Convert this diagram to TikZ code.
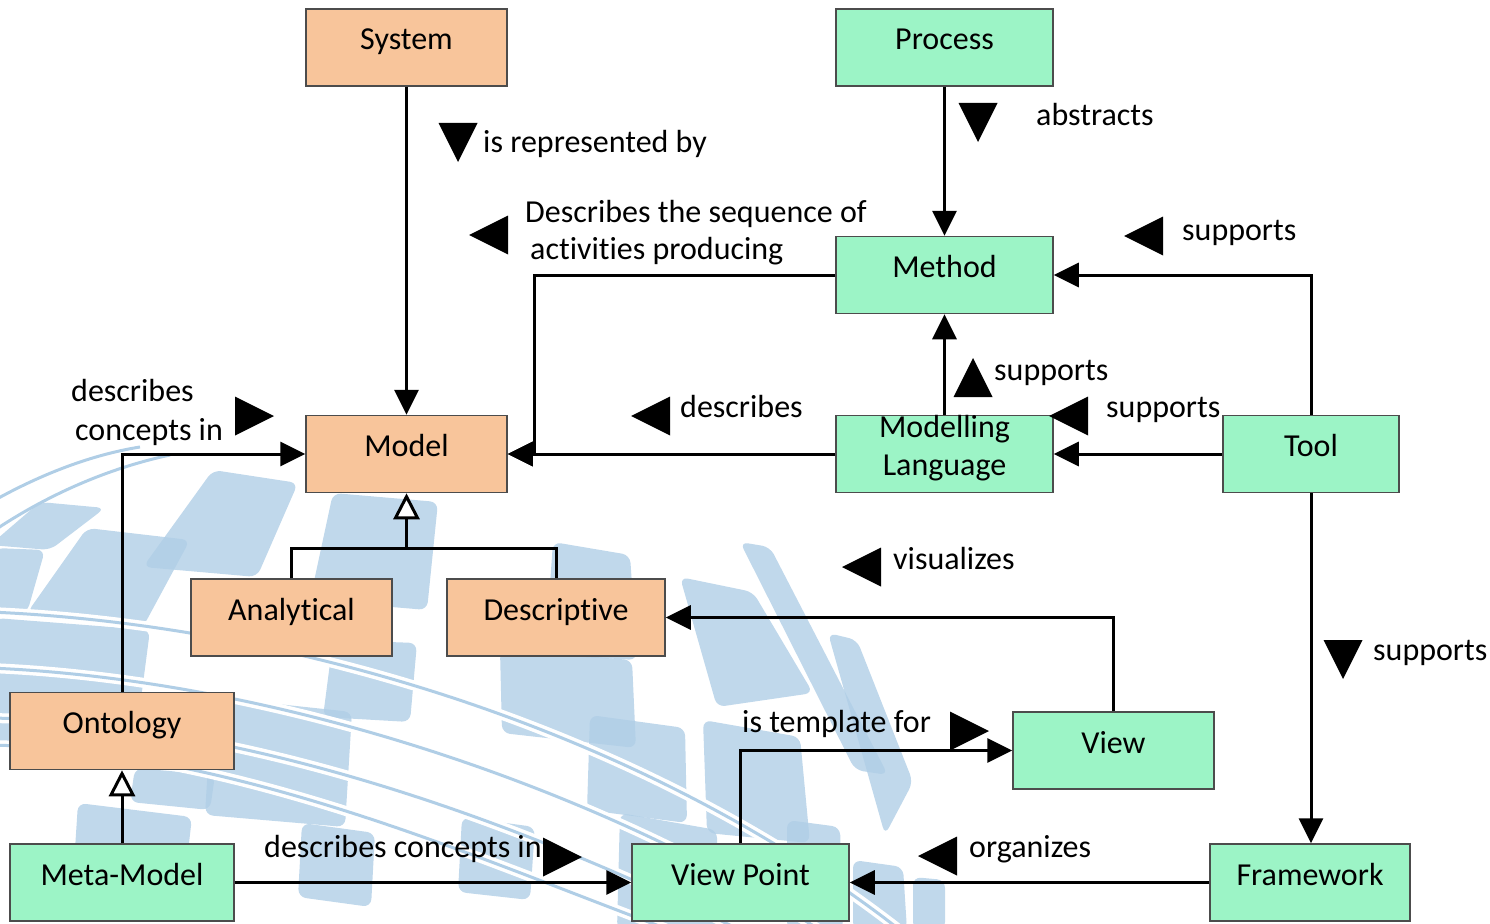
\documentclass[tikz,border=0pt]{standalone}
\usepackage{fontspec}
\setmainfont{Carlito}[Ligatures=CommonOff]
\usetikzlibrary{arrows.meta,calc}
\definecolor{mdlorange}{HTML}{F8C59B}
\definecolor{mdlgreen}{HTML}{9CF4C6}
\definecolor{wmblue}{HTML}{B0CEE6}
\tikzset{
  box/.style={draw=black!70, line width=1.5pt, minimum width=#1, minimum height=77pt,
    inner xsep=0pt, inner ysep=0pt, text height=41pt, text depth=36pt},
  arr/.style={line width=3pt, -{Triangle[length=25pt,width=24pt]}},
  gen/.style={line width=3pt, -{Triangle[open,fill=white,length=26pt,width=26pt]}},
  lbl/.style={anchor=base west, inner sep=0pt},
  wmtile/.style={fill=wmblue, fill opacity=0.8, rounded corners=8pt},
  swoosh/.style={white, line width=10pt},
  swooshline/.style={wmblue, line width=3pt},
  dirmark/.pic={\fill (-19pt,-19.5pt) -- (20pt,0pt) -- (-19pt,19.5pt) -- cycle;}
}
% watermark tile given by its four corners
\newcommand{\wmquad}[4]{\fill[wmtile] (#1) -- (#2) -- (#3) -- (#4) -- cycle;}
\begin{document}
\begin{tikzpicture}[x=1pt,y=-1pt,font=\fontsize{32}{38.5}\selectfont]
\useasboundingbox (0,0) rectangle (1490,923);

% background logo
\wmquad{40,502}{105,508}{50,550}{-10,545}
\wmquad{87,528}{190,540}{143,627}{27,613}
\wmquad{-5,548}{45,550}{27,613}{-5,610}
\wmquad{213,470}{298,483}{257,577}{143,567}
\wmquad{333,493}{438,502}{427,610}{310,600}
\wmquad{333,640}{417,643}{410,722}{323,717}
\wmquad{-5,618}{150,630}{135,745}{-5,745}
\wmquad{212,697}{352,712}{345,827}{205,815}
\wmquad{135,768}{215,775}{210,810}{130,802}
\wmquad{78,803}{192,817}{184,887}{73,880}
\wmquad{302,823}{375,833}{371,907}{298,897}
\wmquad{462,817}{535,827}{530,900}{458,892}
\wmquad{553,542}{630,555}{637,660}{545,655}
\wmquad{500,650}{632,660}{636,748}{502,733}
\wmquad{590,715}{685,728}{687,823}{587,810}
\wmquad{680,577}{753,592}{813,693}{717,707}
\wmquad{740,542}{770,547}{888,775}{855,770}
\wmquad{828,633}{857,640}{913,782}{885,835}
\wmquad{703,720}{800,737}{810,843}{707,833}
\wmquad{620,813}{717,830}{717,930}{617,930}
\wmquad{787,820}{840,827}{843,930}{787,930}
\wmquad{853,860}{903,867}{907,930}{853,930}
\wmquad{913,877}{945,880}{945,930}{913,930}
\foreach \ya/\yb/\xa/\xb/\xe in {612/625/300/650/900, 668/680/280/600/820, 718/722/260/540/740, 745/750/240/480/670}{
  \draw[swoosh] (-10,\ya) .. controls (\xa,\yb) and (\xb,\yb+110) .. (\xe,930);
  \draw[swooshline] (-10,\ya) .. controls (\xa,\yb) and (\xb,\yb+110) .. (\xe,930);
}
\draw[swooshline] (-5,500) .. controls (40,475) and (90,455) .. (140,447);
\draw[swooshline] (-5,530) .. controls (40,500) and (100,470) .. (170,455);

% boxes
\node[box=201pt, fill=mdlorange] (sys) at (406.5,47.5) {System};
\node[box=217pt, fill=mdlgreen] (proc) at (944.5,47.5) {Process};
\node[box=217pt, fill=mdlgreen] (meth) at (944.5,275) {Method};
\node[box=201pt, fill=mdlorange] (model) at (406.5,454) {Model};
\node[box=217pt, fill=mdlgreen] (lang) at (944.5,454) {};
\node[align=center] (langtxt) at ([yshift=6pt]lang.center) {Modelling\\Language};
\node[box=176pt, fill=mdlgreen] (tool) at (1311,454) {Tool};
\node[box=201pt, fill=mdlorange] (ana) at (291.5,617.5) {Analytical};
\node[box=218pt, fill=mdlorange] (desc) at (556,617.5) {Descriptive};
\node[box=224pt, fill=mdlorange] (onto) at (122,731) {Ontology};
\node[box=224pt, fill=mdlgreen] (meta) at (122,882.5) {Meta-Model};
\node[box=217pt, fill=mdlgreen] (vp) at (740.5,882.5) {View Point};
\node[box=201pt, fill=mdlgreen] (view) at (1113.5,750.5) {View};
\node[box=200pt, fill=mdlgreen] (frame) at (1310,882.5) {Framework};

% connectors
\draw[arr] (sys) -- (model);
\draw[arr] (proc) -- (meth);
\draw[arr] (meth.west) -| ([xshift=27pt]model.east) -- (model.east);
\draw[arr] (lang) -- (model);
\draw[arr] (lang) -- (meth);
\draw[arr] (tool.north) |- (meth.east);
\draw[arr] (tool) -- (lang);
\draw[arr] (tool) -- (tool |- frame.north);
\draw[arr] (frame) -- (vp);
\draw[arr] (vp.north) |- (view.west);
\draw[arr] (view.north) |- (desc.east);
\draw[arr] (meta) -- (vp);
\draw[gen] (meta) -- (onto);
\draw[arr] (onto.north) |- (model.west);
\coordinate (join) at (406.5,548);
\draw[line width=3pt] (desc.north) |- (join);
\draw[gen] (ana.north) |- (join) -- (model.south);

% labels with direction marks
\pic[rotate=-90] at (458,142) {dirmark};
\node[lbl] (l1) at (483,152) {is represented by};
\pic[rotate=-90] at (978,122) {dirmark};
\node[lbl] (l2) at (1036,125) {abstracts};
\pic[rotate=180] at (489,235) {dirmark};
\node[lbl] (l3a) at (525,222) {Describes the sequence of};
\node[lbl] (l3b) at (530,259) {activities producing};
\pic[rotate=180] at (1144,236) {dirmark};
\node[lbl] (l4) at (1182,240) {supports};
\pic[rotate=90] at (973,378) {dirmark};
\node[lbl] (l5) at (994,380) {supports};
\pic[rotate=180] at (1069,416) {dirmark};
\node[lbl] (l6) at (1106,417) {supports};
\pic[rotate=180] at (651,416) {dirmark};
\node[lbl] (l7) at (680,417) {describes};
\pic at (254,416) {dirmark};
\node[lbl] (l8a) at (71,401) {describes};
\node[lbl] (l8b) at (75,440) {concepts in};
\pic[rotate=180] at (862,567) {dirmark};
\node[lbl] (l9) at (893,569) {visualizes};
\pic[rotate=-90] at (1343,659) {dirmark};
\node[lbl] (l10) at (1373,660) {supports};
\pic at (969,731) {dirmark};
\node[lbl] (l11) at (742,732) {is template for};
\pic at (562,857) {dirmark};
\node[lbl] (l12) at (264,857) {describes concepts in};
\pic[rotate=180] at (938,856) {dirmark};
\node[lbl] (l13) at (969,857) {organizes};
\end{tikzpicture}
\end{document}
